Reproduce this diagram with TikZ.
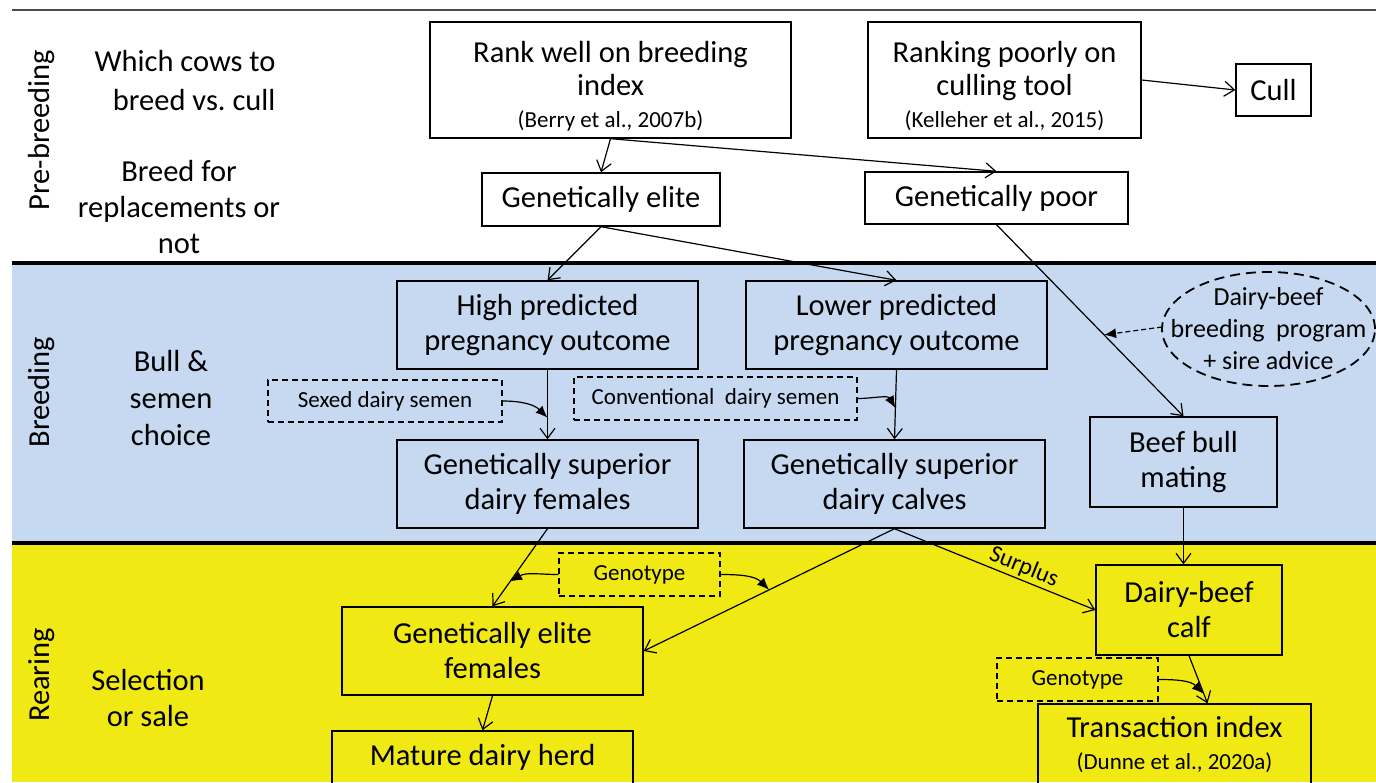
\documentclass[tikz,border=0pt]{standalone}
\usepackage{fontspec}
\setmainfont{Carlito}
\usetikzlibrary{arrows.meta, calc}

\newcommand{\bigtxt}{\fontsize{30.5}{35}\selectfont}
\newcommand{\smalltxt}{\fontsize{23}{27}\selectfont}
\newcommand{\ovaltxt}{\fontsize{26}{32}\selectfont}
\newcommand{\surtxt}{\fontsize{24}{28}\selectfont}

\definecolor{bandblue}{RGB}{198,217,240}
\definecolor{bandyellow}{RGB}{241,233,20}

\begin{document}
\begin{tikzpicture}[
        x=1pt, y=1pt,
        box/.style={draw, line width=1.4pt, align=center, inner sep=0pt, font=\bigtxt},
        dbox/.style={draw, line width=1.2pt, dash pattern=on 6pt off 4pt, align=center, inner sep=0pt, font=\smalltxt},
        side/.style={align=center, font=\bigtxt},
        stage/.style={rotate=90, font=\bigtxt},
        arr/.style={-{Straight Barb[length=10pt,width=15pt]}, line width=1.2pt},
        farr/.style={-{Latex[length=12pt,width=10pt]}, line width=1.2pt}
    ]
        \useasboundingbox (0,0) rectangle (1376,-782);
        \clip (0,0) rectangle (1376,-782);

        % Bands
        \fill[bandblue] (12,-263) rectangle (1376,-543);
        \fill[bandyellow] (12,-543) rectangle (1376,-782);
        \draw[line width=1.2pt, black!70] (12,-10) -- (1376,-10);
        \draw[line width=4pt] (12,-263) -- (1376,-263);
        \draw[line width=4pt] (12,-543) -- (1376,-543);

        % Stages and questions
        \node[stage] (pre) at (42,-130) {Pre-breeding};
        \node[stage] (brd) at (42,-392) {Breeding};
        \node[stage] (rear) at (42,-675) {Rearing};
        \node[side, align=right] (q1) at (185,-81) {Which cows to\\[4pt]breed vs.\ cull};
        \node[side] (q2) at (179,-207) {Breed for\\[1pt]replacements or\\[1pt]not};
        \node[side] (q3) at (171,-398) {Bull \&\\[2pt]semen\\[2pt]choice};
        \node[side] (q4) at (148,-698) {Selection\\[1pt]or sale};

        % Pre-breeding
        \node[box, minimum width=361, minimum height=116] (rank) at (610.5,-80) {\rule{0pt}{34pt}Rank well on breeding\\[-2pt]index\\[-3pt]{\smalltxt (Berry et al., 2007b)}};
        \node[box, minimum width=273, minimum height=116] (worst) at (1004.5,-80) {\rule{0pt}{34pt}Ranking poorly on\\[-2pt]culling tool\\[-3pt]{\smalltxt (Kelleher et al., 2015)}};
        \node[box, minimum width=75, minimum height=52] (cull) at (1273.5,-90) {Cull};
        \node[box, minimum width=238, minimum height=53] (elite) at (601,-199.5) {Genetically elite};
        \node[box, minimum width=263, minimum height=52] (poor) at (996.5,-198) {Genetically poor};

        % Breeding
        \node[box, minimum width=301, minimum height=88] (high) at (547.5,-325) {High predicted\\pregnancy outcome};
        \node[box, minimum width=301, minimum height=88] (low) at (896.5,-325) {Lower predicted\\pregnancy outcome};
        \node[align=center, font=\ovaltxt, inner sep=0pt] (plan) at (1268.5,-329) {Dairy-beef\\breeding\ \ program\\+ sire advice};
        \draw[line width=1.8pt, dash pattern=on 10pt off 6pt] (plan.center) ellipse [x radius=106.5, y radius=57];
        \coordinate (planW) at ($(plan.center)+(-106.5,2)$);
        \node[dbox, minimum width=234, minimum height=42] (sexed) at (385,-401) {Sexed dairy semen};
        \node[dbox, minimum width=283, minimum height=43] (conv) at (715.5,-398.5) {Conventional\ \ dairy semen};
        \node[box, minimum width=301, minimum height=88] (fem) at (547.5,-484) {Genetically superior\\dairy females};
        \node[box, minimum width=301, minimum height=88] (calves) at (894.5,-484) {Genetically superior\\dairy calves};
        \node[box, minimum width=187, minimum height=90] (beef) at (1183.5,-462) {Beef bull\\mating};

        % Rearing
        \node[dbox, minimum width=161, minimum height=43] (geno) at (639.5,-574.5) {Genotype};
        \node[box, minimum width=186, minimum height=90] (dbcalf) at (1189,-610) {Dairy-beef\\calf};
        \node[box, minimum width=301, minimum height=88] (elitef) at (492.5,-651) {Genetically elite\\females};
        \node[dbox, minimum width=161, minimum height=43] (genob) at (1077.5,-679.5) {Genotype};
        \node[box, minimum width=301, minimum height=53] (herd) at (482.5,-757.5) {Mature dairy herd};
        \node[box, minimum width=273, minimum height=80] (trans) at (1174.5,-744) {Transaction index\\[-3pt]{\smalltxt (Dunne et al., 2020a)}};

        % Flow
        \draw[arr] (rank.south) -- (elite.north);
        \draw[arr] (rank.south) -- (poor.north);
        \draw[arr] (worst.east) -- (cull.west);
        \draw[arr] (elite.south) -- (high.north);
        \draw[arr] (elite.south) -- (low.north);
        \draw[arr] (poor.south) -- (beef.north);
        \draw[arr] (high.south) -- (fem.north);
        \draw[arr] (low.south) -- (calves.north);
        \draw[arr] (beef.south) -- (beef.south |- dbcalf.north);
        \draw[arr] (calves.south) -- node[sloped, above, pos=0.62, inner sep=2pt, font=\surtxt] (surplus) {Surplus} (dbcalf.west);
        \draw[arr] (calves.south) -- (elitef.east);
        \draw[arr] (fem.south) -- (elitef.north);
        \draw[arr] (elitef.south) -- (herd.north);
        \coordinate (tin) at ($(trans.north)+(33,0)$);
        \draw[arr] (dbcalf.south) -- (tin);

        % Inputs on the flow
        \coordinate (sx) at ($(high.south)!0.69!(fem.north)$);
        \coordinate (cx) at ($(low.south)!0.55!(calves.north)$);
        \coordinate (px) at ($(poor.south)!0.575!(beef.north)$);
        \coordinate (gx) at ($(fem.south)!0.68!(elitef.north)$);
        \coordinate (gy) at ($(calves.south)!0.5!(elitef.east)$);
        \coordinate (tx) at ($(dbcalf.south)!0.8!(tin)$);
        \draw[farr] (sexed.east) to[out=0, in=135] (sx);
        \draw[farr] (conv.east) to[out=0, in=120] (cx);
        \draw[farr, dash pattern=on 5pt off 3pt] (planW) -- (px);
        \draw[farr] (geno.west) to[out=180, in=30] (gx);
        \draw[farr] (geno.east) to[out=0, in=135] (gy);
        \draw[farr] (genob.east) to[out=0, in=135] (tx);
    \end{tikzpicture}
\end{document}
